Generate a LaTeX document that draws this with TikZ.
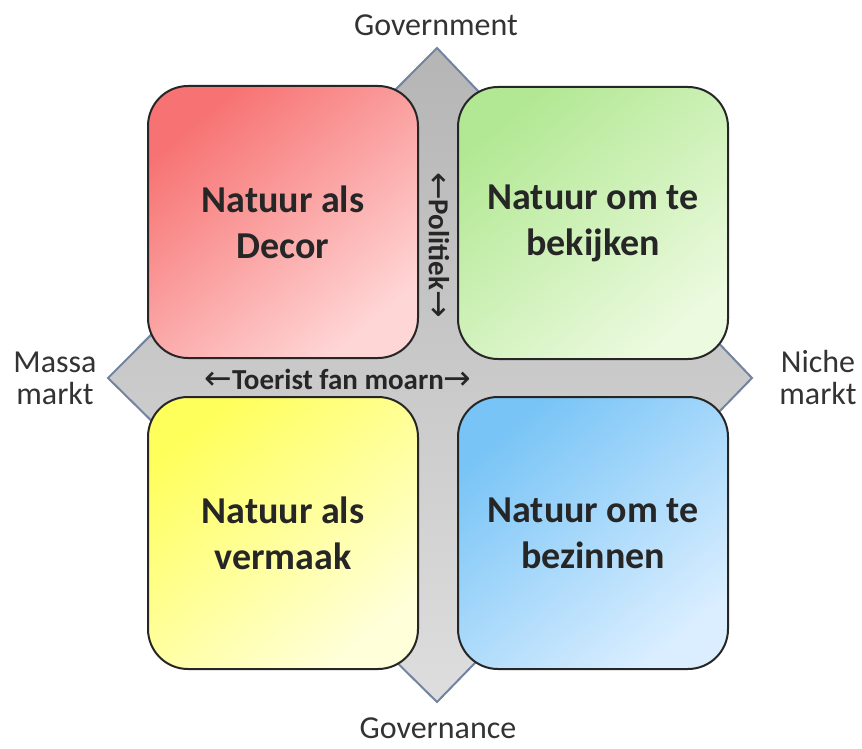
\documentclass[tikz,border=0pt]{standalone}
\usepackage{fontspec}
\setmainfont{Carlito}
\newfontfamily\arrowfont{DejaVu Sans}
\definecolor{axisline}{HTML}{7383A0}
\definecolor{labelgray}{HTML}{333333}
\definecolor{redtop}{HTML}{F77272}
\definecolor{redbot}{HTML}{FFD6D6}
\definecolor{greentop}{HTML}{B2E893}
\definecolor{greenbot}{HTML}{ECFADF}
\definecolor{yellowtop}{HTML}{FFFF5C}
\definecolor{yellowbot}{HTML}{FFFFDA}
\definecolor{bluetop}{HTML}{78C4F6}
\definecolor{bluebot}{HTML}{DAEEFF}
\newcommand{\la}{{\arrowfont\fontsize{33}{30}\selectfont\mdseries ←}}
\newcommand{\ra}{{\arrowfont\fontsize{33}{30}\selectfont\mdseries →}}
\tikzset{
  quad/.style={draw=black!85, line width=2pt, rounded corners=40pt, minimum width=270pt,
    minimum height=272pt, align=center, font=\fontsize{38}{46}\selectfont\bfseries,
    text=black!85},
  axislabel/.style={font=\fontsize{32}{32}\selectfont, text=labelgray, align=center},
  midlabel/.style={font=\fontsize{29}{30}\selectfont\bfseries, text=black!85, inner sep=0pt}
}
\begin{document}
\begin{tikzpicture}[x=1pt, y=-1pt]
  \useasboundingbox (0,0) rectangle (862,749);
  % axes as one big diamond
  \coordinate (top) at (437,48);
  \coordinate (right) at (752,378);
  \coordinate (bottom) at (437,702);
  \coordinate (left) at (108,378);
  \draw [axisline, line width=2pt, top color=black!29, bottom color=blue!3!black!13, line join=miter]
    (top) -- (right) -- (bottom) -- (left) -- cycle;
  % four quadrants
  \node [quad, top color=redtop, bottom color=redbot, shading angle=40] (decor) at (283,222) {Natuur als\\Decor};
  \node [quad, top color=greentop, bottom color=greenbot, shading angle=40] (bekijken) at (593,223) {Natuur om te\\bekijken};
  \node [quad, top color=yellowtop, bottom color=yellowbot, shading angle=40] (vermaak) at (283,533) {Natuur als\\vermaak};
  \node [quad, top color=bluetop, bottom color=bluebot, shading angle=40] (bezinnen) at (593,533) {Natuur om te\\bezinnen};
  % labels on the axes
  \node [midlabel, rotate=-90] (politiek) at (439,245) {\la Politiek\ra};
  \node [midlabel] (toerist) at (338,379) {\la Toerist fan moarn\ra};
  \node [axislabel] (government) at (436,25) {Government};
  \node [axislabel] (governance) at (438,728) {Governance};
  \node [axislabel] (massa) at (55,378) {Massa\\markt};
  \node [axislabel] (niche) at (818,378) {Niche\\markt};
\end{tikzpicture}
\end{document}
